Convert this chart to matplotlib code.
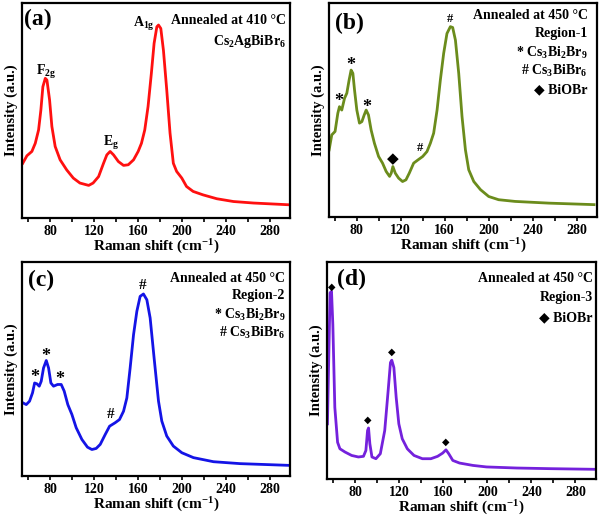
import matplotlib
matplotlib.use("Agg")
import matplotlib.pyplot as plt
from matplotlib.ticker import MultipleLocator

plt.rcParams['font.family'] = ['Liberation Serif', 'DejaVu Sans']
plt.rcParams['font.weight'] = 'bold'
plt.rcParams['axes.labelweight'] = 'bold'
plt.rcParams['mathtext.fontset'] = 'custom'
plt.rcParams['mathtext.rm'] = 'Liberation Serif:bold'
plt.rcParams['mathtext.it'] = 'Liberation Serif:bold'
plt.rcParams['mathtext.bf'] = 'Liberation Serif:bold'

# (a) Cs2AgBiBr6, annealed at 410 C
a_shift = [55, 58.8, 63.3, 66.4, 69.4, 71.5, 73.3, 75.5, 77, 79.4, 81.5, 84.5, 89, 95, 101,
           107, 115, 119, 124, 128.5, 131.5, 134.5, 137.6, 142, 146.7, 151, 155.8, 160, 163,
           166, 169, 172, 174.5, 177, 178.5, 180.6, 183, 186, 189, 192, 195, 199.7, 204, 210,
           219, 231.5, 246.7, 265, 296.7]
a_int = [0.255, 0.29, 0.31, 0.348, 0.41, 0.503, 0.611, 0.65, 0.642, 0.55, 0.426, 0.333, 0.271,
         0.224, 0.186, 0.163, 0.152, 0.163, 0.193, 0.255, 0.294, 0.31, 0.294, 0.263, 0.245,
         0.248, 0.271, 0.31, 0.348, 0.41, 0.519, 0.673, 0.813, 0.89, 0.898, 0.882, 0.78, 0.596,
         0.395, 0.255, 0.217, 0.186, 0.147, 0.124, 0.108, 0.09, 0.077, 0.07, 0.062]

# (b) annealed at 450 C, region-1
b_shift = [54.8, 57.2, 60.2, 62.7, 64.2, 66.3, 68.8, 70.9, 73, 74.8, 76.4, 77.9, 80, 82.4,
           84.6, 86.7, 88.5, 90.6, 93, 96, 99.8, 103.4, 106.7, 109.8, 111.3, 112.8, 115, 118,
           121.6, 124.7, 127.7, 131.7, 135.6, 139.9, 143.8, 146.9, 149.9, 153, 156, 159, 162,
           165.1, 167.2, 169.7, 172.7, 175.7, 178.8, 181.8, 186.4, 192.5, 200, 209, 224,
           254.8, 295.8]
b_int = [0.314, 0.384, 0.4, 0.485, 0.516, 0.5, 0.555, 0.579, 0.641, 0.687, 0.672, 0.594, 0.5,
         0.439, 0.446, 0.477, 0.5, 0.477, 0.407, 0.345, 0.283, 0.252, 0.213, 0.19, 0.205,
         0.236, 0.205, 0.182, 0.166, 0.174, 0.205, 0.252, 0.267, 0.283, 0.306, 0.345, 0.392,
         0.5, 0.641, 0.765, 0.858, 0.89, 0.886, 0.827, 0.672, 0.47, 0.314, 0.221, 0.166,
         0.128, 0.096, 0.081, 0.073, 0.065, 0.058]

# (c) annealed at 450 C, region-2
c_shift = [55.2, 58.2, 61.2, 63.9, 65.8, 67.9, 70, 71.8, 73.9, 76.4, 78.5, 80.6, 83, 86.7,
           90, 92.7, 96, 99.7, 103.6, 108.8, 113.9, 117.9, 121.8, 125.5, 130, 134, 139, 143,
           146.7, 149.7, 152.7, 155.8, 158.8, 161.8, 164.8, 167.9, 170.9, 174.5, 178.5, 181.5,
           186, 192, 199.7, 210.3, 228.5, 252.7, 296.7]
c_int = [0.342, 0.334, 0.35, 0.389, 0.435, 0.431, 0.42, 0.443, 0.505, 0.54, 0.505, 0.435,
         0.42, 0.428, 0.428, 0.397, 0.334, 0.288, 0.226, 0.171, 0.135, 0.124, 0.129, 0.148,
         0.194, 0.233, 0.249, 0.264, 0.303, 0.365, 0.505, 0.661, 0.77, 0.84, 0.851, 0.824,
         0.739, 0.552, 0.35, 0.257, 0.187, 0.14, 0.109, 0.086, 0.067, 0.058, 0.05]

# (d) annealed at 450 C, region-3
d_shift = [54.9, 56.1, 57.3, 58.6, 59.8, 61.6, 64.1, 66.2, 70.8, 76.9, 83, 87.6, 89.8, 91.3,
           92.2, 93.4, 95.3, 98.9, 102.9, 106.9, 110, 112.1, 113.3, 115.2, 117.3, 119.7,
           122.8, 127.4, 128.9, 133.5, 141.1, 148.8, 154.9, 159.5, 162.5, 165, 168.7, 174.8,
           187, 199.3, 226.8, 257.4, 298.6]
d_int = [0.253, 0.559, 0.858, 0.865, 0.712, 0.329, 0.168, 0.138, 0.123, 0.107, 0.1, 0.103,
         0.13, 0.222, 0.234, 0.161, 0.1, 0.092, 0.115, 0.222, 0.406, 0.536, 0.547, 0.513,
         0.375, 0.253, 0.184, 0.138, 0.13, 0.107, 0.092, 0.092, 0.103, 0.118, 0.133, 0.115,
         0.084, 0.072, 0.061, 0.054, 0.049, 0.046, 0.043]

# peak labels: (x, y, text, size)
a_peaks = [(75.8, 0.68, r'F$_{\mathrm{2g}}$', 10), (135.5, 0.35, r'E$_{\mathrm{g}}$', 10),
           (165, 0.905, r'A$_{\mathrm{1g}}$', 10)]
b_peaks = [(64, 0.54, '*', 13), (74.5, 0.71, '*', 13), (89, 0.51, '*', 13),
           (112.8, 0.27, '\u25c6', 11), (137, 0.325, '#', 9), (165, 0.925, '#', 9)]
c_peaks = [(65.8, 0.46, '*', 13), (75.8, 0.56, '*', 13), (89, 0.45, '*', 13),
           (134.5, 0.29, '#', 11), (164, 0.89, '#', 11)]
d_peaks = [(58.6, 0.884, '\u25c6', 7), (91.8, 0.271, '\u25c6', 7),
           (113.7, 0.582, '\u25c6', 7), (162.5, 0.167, '\u25c6', 7)]

a_notes = ['Annealed at 410 \u00b0C', r'Cs$_2$AgBiBr$_6$']
b_notes = ['Annealed at 450 \u00b0C', 'Region-1', r'* Cs$_3$Bi$_2$Br$_9$',
           r'# Cs$_3$BiBr$_6$', '\u25c6 BiOBr']
c_notes = ['Annealed at 450 \u00b0C', 'Region-2', r'* Cs$_3$Bi$_2$Br$_9$',
           r'# Cs$_3$BiBr$_6$']
d_notes = ['Annealed at 450 \u00b0C', 'Region-3', '\u25c6 BiOBr']

fig = plt.figure(figsize=(6, 5.18), dpi=100)

panels = [
    ([0.037, 0.579, 0.447, 0.415], a_shift, a_int, '#ff1010', '(a)', (0.005, 0.925),
     a_peaks, a_notes, 0.985, [0.921, 0.82]),
    ([0.548, 0.581, 0.447, 0.413], b_shift, b_int, '#6b8c1c', '(b)', (0.022, 0.905),
     b_peaks, b_notes, 0.965, [0.944, 0.858, 0.768, 0.684, 0.597]),
    ([0.037, 0.081, 0.447, 0.413], c_shift, c_int, '#1414e6', '(c)', (0.022, 0.915),
     c_peaks, c_notes, 0.981, [0.922, 0.844, 0.754, 0.669]),
    ([0.545, 0.076, 0.448, 0.418], d_shift, d_int, '#7421dc', '(d)', (0.038, 0.92),
     d_peaks, d_notes, 0.988, [0.923, 0.835, 0.743]),
]

for rect, xs, ys, color, tag, tagpos, peaks, notes, xr, ny in panels:
    ax = fig.add_axes(rect)
    ax.plot(xs, ys, color=color, lw=2)
    ax.set_xlim(54.5, 298.5)
    ax.set_ylim(0, 1)
    ax.set_yticks([])
    ax.xaxis.set_major_locator(MultipleLocator(40))
    ax.xaxis.set_minor_locator(MultipleLocator(20))
    ax.tick_params(axis='x', which='both', direction='out', length=3, width=1.2,
                   labelsize=10, pad=2)
    for lbl in ax.get_xticklabels():
        lbl.set_fontweight('bold')
    for s in ax.spines.values():
        s.set_linewidth(1.6)
    ax.set_xlabel(r'Raman shift (cm$^{-1}$)', fontsize=11, labelpad=0)
    ax.set_ylabel('Intensity (a.u.)', fontsize=10.5, labelpad=3)
    ax.text(tagpos[0], tagpos[1], tag, transform=ax.transAxes, fontsize=17,
            ha='left', va='center')
    for px, py, t, sz in peaks:
        ax.text(px, py, t, fontsize=sz, ha='center', va='center')
    for t, yy in zip(notes, ny):
        ax.text(xr, yy, t, transform=ax.transAxes, fontsize=10, ha='right', va='center')

fig.savefig('out.png', dpi=100)
